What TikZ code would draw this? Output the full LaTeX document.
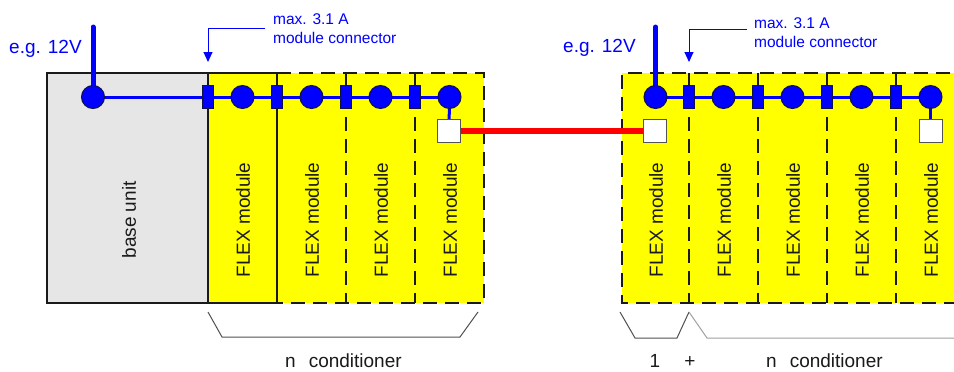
\documentclass[tikz,border=0pt]{standalone}
\usepackage{fontspec}
\setmainfont{Liberation Sans}
\usetikzlibrary{arrows.meta}
\definecolor{modyellow}{HTML}{FFFF00}
\definecolor{basegray}{HTML}{E6E6E6}
\definecolor{busblue}{HTML}{0000FF}
\definecolor{edgecol}{HTML}{1A1A1A}
\definecolor{outl}{HTML}{10104A}
\definecolor{bracecol}{HTML}{505050}
\definecolor{bracelight}{HTML}{A0A0A0}
\begin{document}
\begin{tikzpicture}[x=1pt,y=-1pt,
  solidedge/.style={draw=edgecol, line width=1.5pt},
  dashedge/.style={draw=edgecol, line width=2pt, dash pattern=on 14pt off 8pt},
  bus/.style={draw=busblue, line width=3pt},
  supply/.style={draw=busblue, line width=5pt, line cap=round},
  junction/.style={circle, fill=busblue, draw=outl, line width=1pt, minimum size=23pt, inner sep=0pt},
  plug/.style={rectangle, fill=busblue, draw=outl, line width=1pt, minimum width=11pt, minimum height=23pt, inner sep=0pt},
  term/.style={rectangle, fill=white, draw=edgecol!75, line width=1pt, minimum size=23pt, inner sep=0pt},
  modtext/.style={rotate=90, font=\fontsize{19}{22}\selectfont, inner sep=0pt, text=edgecol},
  lbl/.style={text=busblue, font=\fontsize{19}{22}\selectfont, inner sep=0pt, anchor=base west},
  note/.style={text=busblue, font=\fontsize{15.5}{18}\selectfont, inner sep=0pt, anchor=base west},
  callout/.style={draw=busblue, line width=1pt, -{Triangle[length=10pt,width=9pt]}},
  brace/.style={draw=bracecol, line width=1pt},
  capt/.style={font=\fontsize{19}{22}\selectfont, inner sep=0pt, text=edgecol}]
\useasboundingbox (0,0) rectangle (954,372);
\clip (0,0) rectangle (954,372);

% ---------- fills ----------
\fill[basegray] (47,73) rectangle (208,303);
\fill[modyellow] (208,73) rectangle (484,303);
\fill[modyellow] (622,73) rectangle (972,303);

% ---------- borders ----------
\draw[solidedge] (47,73) rectangle (208,303);
\draw[solidedge] (208,73) rectangle (277,303);
\draw[dashedge] (277,73) -- (484,73) -- (484,303) -- (277,303);
\draw[dashedge] (346,73) -- (346,303);
\draw[dashedge] (415,73) -- (415,303);
\draw[dashedge] (972,73) -- (622,73) -- (622,303) -- (972,303);
\foreach \xx in {689,758,827,896}{\draw[dashedge] (\xx,73) -- (\xx,303);}

% ---------- texts in boxes ----------
\node[modtext] (tbase) at (129,220) {base unit};
\node[modtext] (m1) at (243,220) {FLEX module};
\node[modtext] (m2) at (312,220) {FLEX module};
\node[modtext] (m3) at (381,220) {FLEX module};
\node[modtext] (m4) at (450,220) {FLEX module};
\node[modtext] (r1) at (656,220) {FLEX module};
\node[modtext] (r2) at (724,220) {FLEX module};
\node[modtext] (r3) at (793,220) {FLEX module};
\node[modtext] (r4) at (862,220) {FLEX module};
\node[modtext] (r5) at (931,220) {FLEX module};

% ---------- coordinates ----------
\coordinate (s0) at (93,27);
\coordinate (b0) at (93,97);
\coordinate (bL) at (449.5,97);
\coordinate (s1) at (655.5,27);
\coordinate (b1) at (655.5,97);
\coordinate (bR) at (930.5,97);

% ---------- bus lines ----------
\draw[bus] (b0) -- (bL);
\draw[bus] (b1) -- (bR);
\draw[supply] (s0) -- (b0);
\draw[supply] (s1) -- (b1);

% ---------- left bus nodes ----------
\node[junction] (j0) at (b0) {};
\node[plug] (p1) at (208,97) {};
\node[junction] (j1) at (242.5,97) {};
\node[plug] (p2) at (277,97) {};
\node[junction] (j2) at (311.5,97) {};
\node[plug] (p3) at (346,97) {};
\node[junction] (j3) at (380.5,97) {};
\node[plug] (p4) at (415,97) {};
\node[junction] (j4) at (bL) {};
\node[term] (tL) at (449,131) {};
\draw[bus] (j4) -- (tL);

% ---------- right bus nodes ----------
\node[junction] (k1) at (b1) {};
\node[plug] (q1) at (689,97) {};
\node[junction] (k2) at (723.5,97) {};
\node[plug] (q2) at (758,97) {};
\node[junction] (k3) at (792.5,97) {};
\node[plug] (q3) at (827,97) {};
\node[junction] (k4) at (861.5,97) {};
\node[plug] (q4) at (896,97) {};
\node[junction] (k5) at (bR) {};
\node[term] (tR1) at (655,131) {};
\node[term] (tR5) at (930.5,131) {};
\draw[bus] (k5) -- (tR5);

% ---------- red link ----------
\draw[red, line width=6pt] (tL.east) -- (tR1.west);

% ---------- labels ----------
\node[lbl] (v1) at (9,53) {e.g. 12V};
\node[lbl] (v2) at (563,52) {e.g. 12V};
\node[note] (n1a) at (273,24) {max. 3.1 A};
\node[note] (n1b) at (273,43) {module connector};
\node[note] (n2a) at (754,28) {max. 3.1 A};
\node[note] (n2b) at (754,47) {module connector};
\coordinate (a1s) at (265,28);
\coordinate (a1e) at (208,62);
\coordinate (a2s) at (747,29);
\coordinate (a2e) at (689,62);
\draw[callout] (a1s) -| (a1e);
\draw[callout] (a2s) -| (a2e);

% ---------- brackets ----------
\draw[brace] (208,312) -- (222,337) -- (460,337) -- (478,312);
\draw[brace] (620,312) -- (635,338) -- (677,338) -- (689,312);
\draw[draw=bracelight, line width=1pt] (689,312) -- (707,338) -- (960,338);

\node[capt, anchor=base west] (c1) at (285,367) {n\hspace{13pt}conditioner};
\node[capt, anchor=base] (c2) at (655,367) {1};
\node[capt, anchor=base] (c3) at (690,367) {+};
\node[capt, anchor=base west] (c4) at (766,367) {n\hspace{13pt}conditioner};
\end{tikzpicture}
\end{document}
